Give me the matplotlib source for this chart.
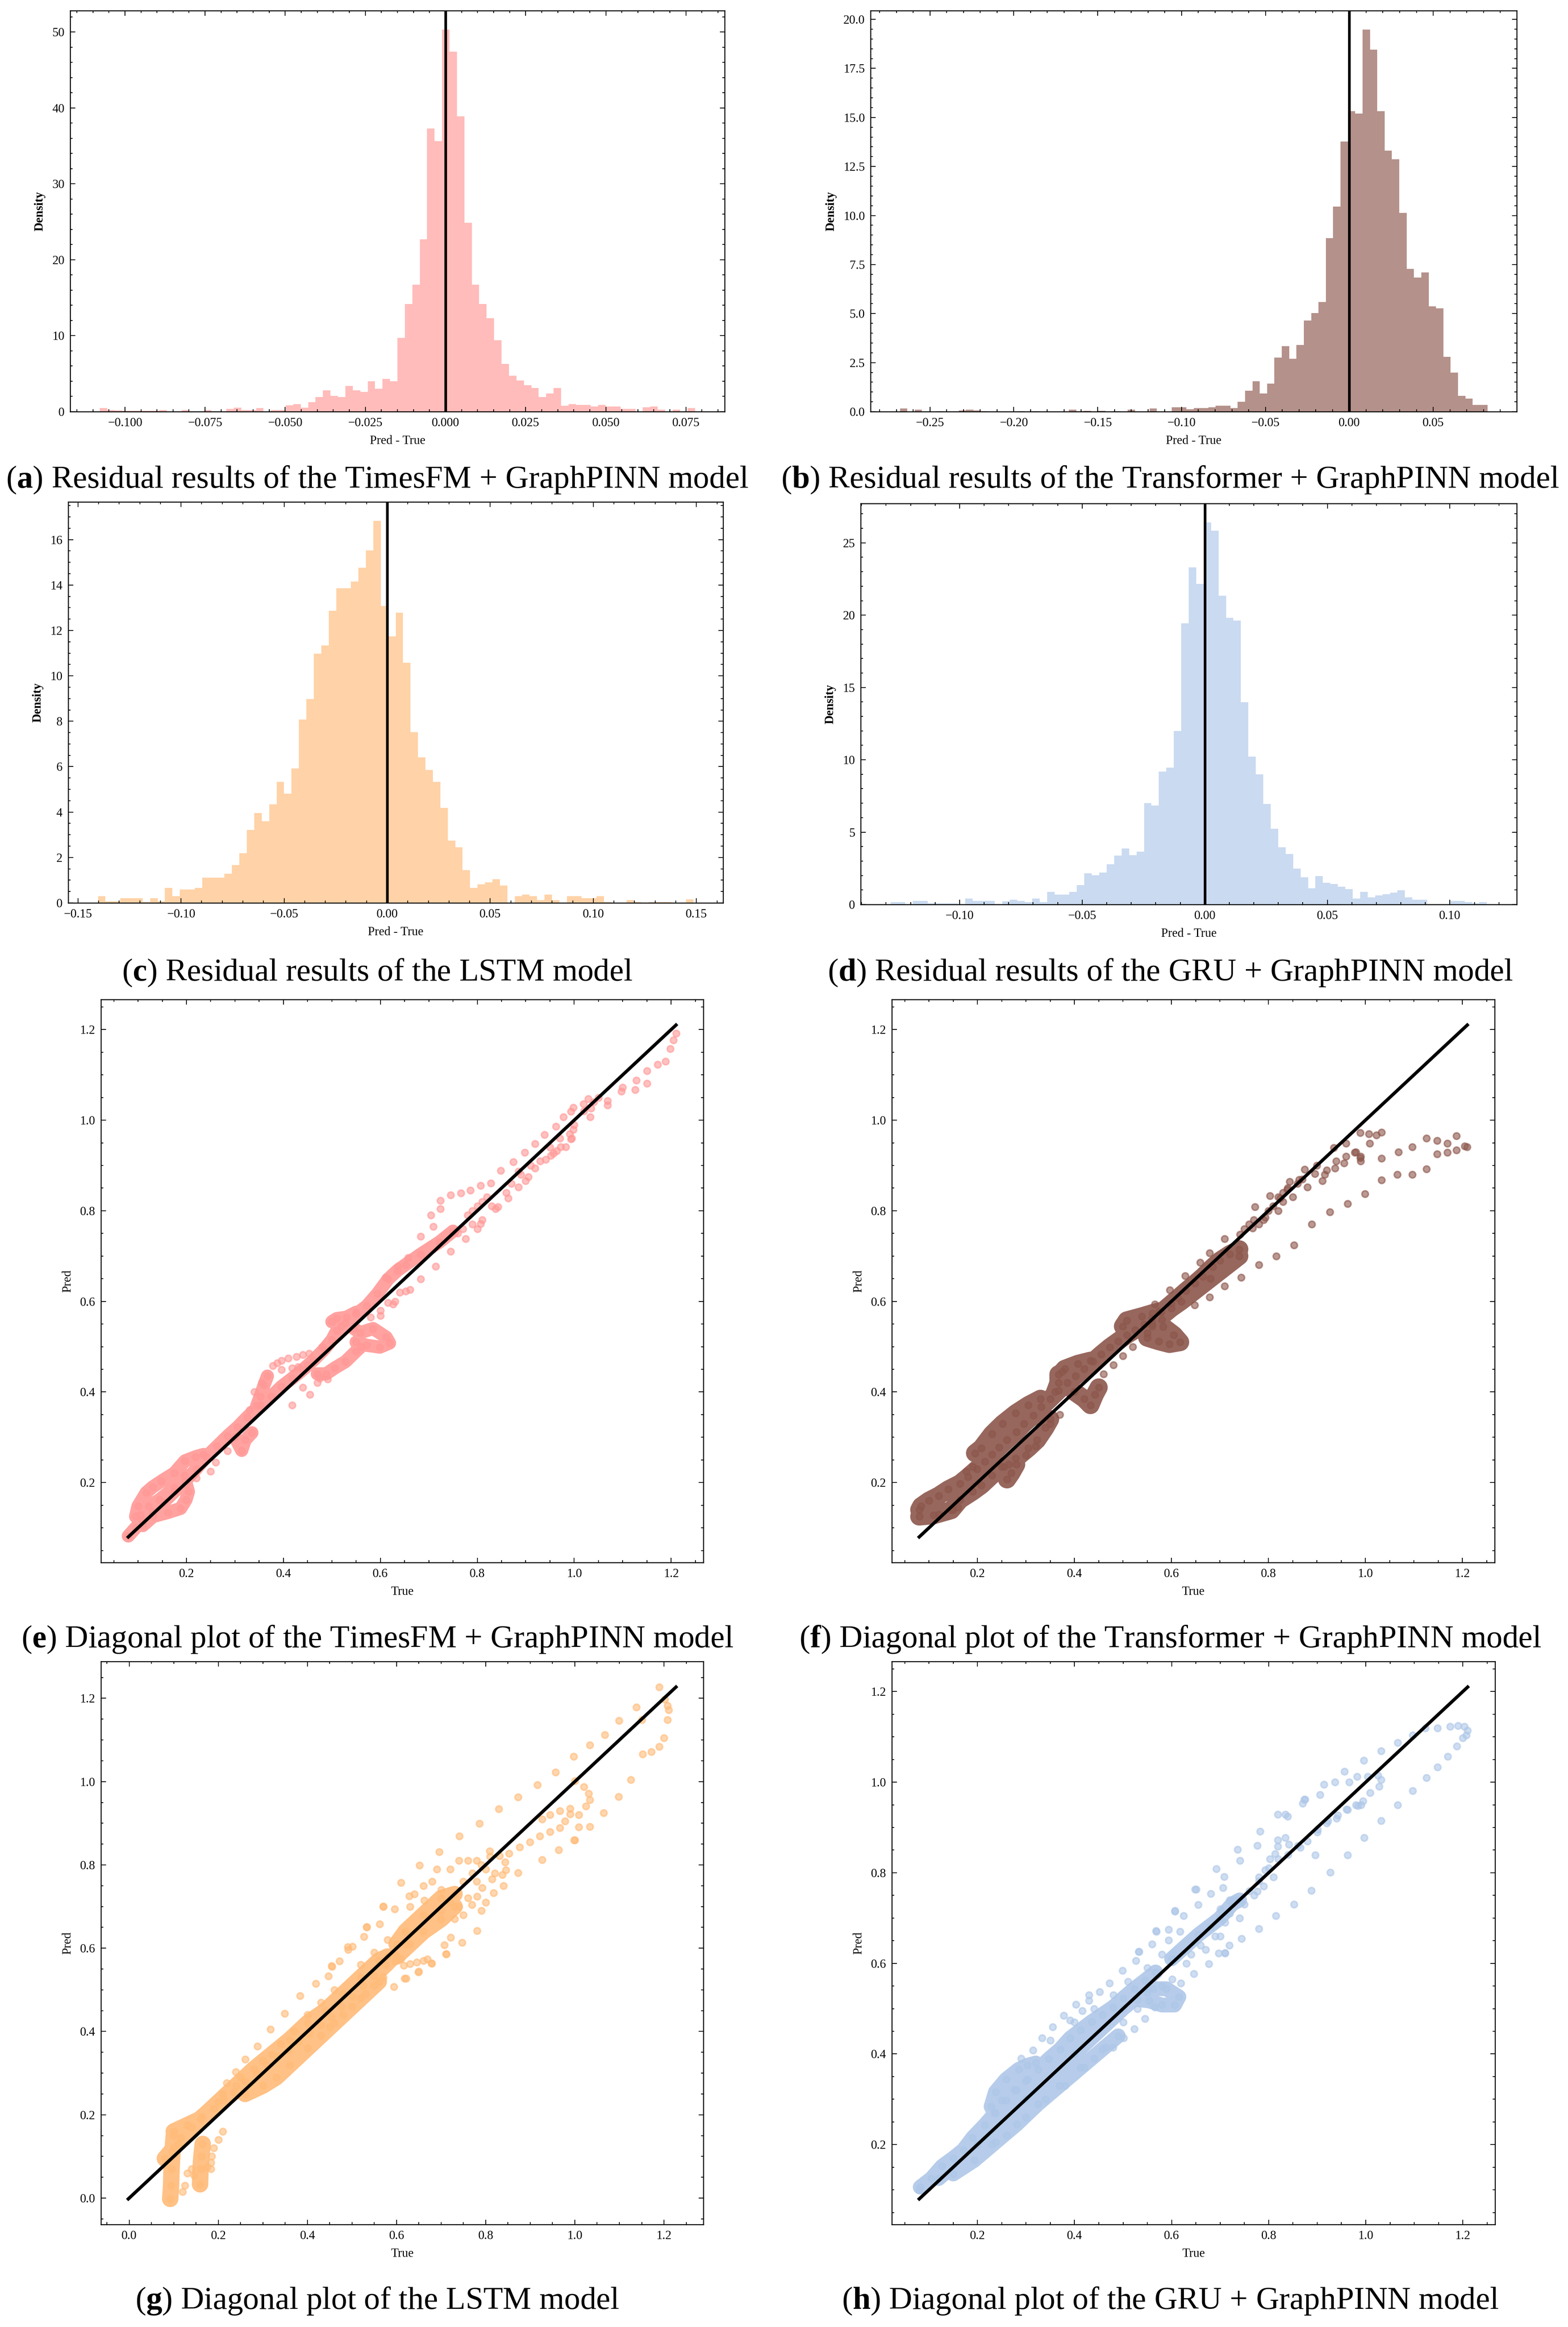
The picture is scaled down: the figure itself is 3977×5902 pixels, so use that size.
import numpy as np
import matplotlib
matplotlib.use("Agg")
import matplotlib.pyplot as plt
from matplotlib.ticker import AutoMinorLocator, MultipleLocator

# ---------------- histogram data (density per bin, equal-width bins) ----------------
a_range = (-0.1078, 0.0778)
a_dens = [0.45, 0.2, 0.15, 0.1, 0.1, 0.1, 0.1, 0.1, 0.2, 0, 0, 0.2, 0, 0, 0.2, 0, 0, 0.35, 0.5, 0.2,
          0.2, 0.45, 0, 0.2, 0.2, 0.85, 1.0, 0.5, 1.25, 1.9, 2.8, 2.1, 1.9, 3.4, 2.8, 2.6, 4.0, 3.0, 4.3, 4.0,
          9.7, 14.2, 16.7, 22.7, 37.3, 35.6, 50.3, 47.4, 38.9, 24.9, 16.7, 14.2, 12.3, 9.4, 6.3, 4.7, 4.1, 3.5,
          3.1, 1.9, 2.4, 3.1, 0.8, 1.0, 0.9, 0.9, 0.7, 0.9, 0.7, 0.65, 0.35, 0.35, 0, 0.55, 0.7, 0.25, 0, 0.25,
          0, 0.45]

b_range = (-0.2679, 0.0823)
b_dens = [0.17, 0, 0.1, 0, 0, 0.03, 0, 0, 0.07, 0.1,
          0.07, 0.03, 0, 0, 0, 0, 0.03, 0, 0.03, 0,
          0, 0, 0, 0.1, 0.03, 0.05, 0, 0.05, 0, 0.03,
          0, 0.1, 0, 0, 0.17, 0, 0, 0.23, 0.23, 0.12,
          0.18, 0.18, 0.22, 0.3, 0.3, 0.18, 0.5, 1.07, 1.55, 0.92,
          1.43, 2.75, 3.34, 2.69, 3.39, 4.64, 5.02, 5.59, 8.84, 10.46,
          13.76, 15.31, 15.2, 19.47, 18.45, 15.31, 13.3, 12.86, 10.14, 7.27,
          6.84, 7.09, 5.37, 5.27, 2.8, 2.0, 0.8, 0.67, 0.35, 0.35]

c_range = (-0.1403, 0.1485)
c_dens = [0.29, 0.07, 0.07, 0.2, 0.2, 0.2, 0.04, 0.2, 0.07, 0.66,
          0.29, 0.59, 0.59, 0.66, 1.12, 1.12, 1.12, 1.28, 1.66, 2.19,
          3.21, 3.96, 3.59, 4.34, 5.33, 4.81, 5.92, 8.08, 8.98, 10.97,
          11.34, 12.87, 13.85, 13.85, 14.16, 14.76, 15.53, 16.82, 13.08, 11.74,
          12.78, 10.58, 7.52, 6.41, 5.85, 5.33, 4.18, 2.74, 2.44, 1.44,
          0.66, 0.82, 0.91, 1.05, 0.76, 0, 0.29, 0.36, 0.29, 0.13,
          0.36, 0.13, 0, 0.29, 0.29, 0.2, 0.2, 0.29, 0.04, 0,
          0, 0.13, 0.04, 0, 0.04, 0.04, 0.04, 0, 0, 0.16]

d_range = (-0.1282, 0.1151)
d_dens = [0.16, 0.16, 0, 0.25, 0.25, 0.07, 0.07, 0.07, 0.07, 0,
          0.41, 0.25, 0.25, 0.25, 0, 0.23, 0.32, 0.25, 0.16, 0.41,
          0.16, 0.88, 0.68, 0.68, 0.88, 1.33, 2.15, 2.03, 2.22, 2.78,
          3.39, 3.87, 3.41, 3.66, 7.01, 6.85, 9.18, 9.45, 11.98, 19.44,
          23.3, 22.15, 26.4, 25.84, 21.34, 19.82, 19.62, 13.97, 10.22, 9.0,
          6.94, 5.24, 3.96, 3.48, 2.49, 1.88, 1.13, 1.97, 1.51, 1.42,
          1.22, 1.06, 0.41, 0.88, 0.5, 0.63, 0.7, 0.81, 0.97, 0.5,
          0.32, 0.32, 0, 0, 0, 0.25, 0.25, 0.16, 0.09, 0.16]

# ---------------- diagonal plot data: (true, pred) ----------------
# dense traces (drawn as thick translucent paths) and individual points

e_band = [
    [(0.080, 0.082), (0.095, 0.10), (0.109, 0.116), (0.13, 0.135), (0.153, 0.157), (0.175, 0.18),
     (0.197, 0.203), (0.22, 0.23), (0.241, 0.257), (0.263, 0.28), (0.285, 0.303), (0.305, 0.322),
     (0.325, 0.344), (0.352, 0.371), (0.375, 0.39), (0.396, 0.412), (0.418, 0.43), (0.44, 0.449),
     (0.462, 0.47), (0.484, 0.494), (0.50, 0.515), (0.51, 0.535), (0.528, 0.553), (0.55, 0.572),
     (0.572, 0.59), (0.594, 0.617), (0.616, 0.649), (0.635, 0.668), (0.652, 0.681), (0.683, 0.704),
     (0.722, 0.731), (0.75, 0.755)],
    [(0.095, 0.125), (0.10, 0.148), (0.117, 0.178), (0.13, 0.19), (0.148, 0.203), (0.175, 0.221),
     (0.197, 0.248), (0.219, 0.257), (0.235, 0.262)],
    [(0.105, 0.128), (0.122, 0.148), (0.144, 0.162), (0.175, 0.189), (0.197, 0.216)],
    [(0.11, 0.105), (0.131, 0.125), (0.162, 0.134), (0.188, 0.143), (0.199, 0.162), (0.204, 0.18),
     (0.20, 0.195)],
    [(0.30, 0.30), (0.314, 0.271), (0.321, 0.294), (0.335, 0.31)],
    [(0.345, 0.37), (0.352, 0.39), (0.36, 0.415), (0.367, 0.435)],
    [(0.50, 0.555), (0.51, 0.562), (0.53, 0.565), (0.55, 0.576)],
    [(0.545, 0.54), (0.559, 0.531), (0.585, 0.54), (0.612, 0.521), (0.619, 0.508), (0.599, 0.499),
     (0.572, 0.503), (0.55, 0.51)],
    [(0.47, 0.44), (0.488, 0.44), (0.506, 0.453), (0.528, 0.467), (0.55, 0.49), (0.56, 0.50)],
]
e_points = [
    (0.378, 0.458), (0.387, 0.464), (0.396, 0.469), (0.41, 0.474), (0.427, 0.478), (0.44, 0.482),
    (0.453, 0.485), (0.396, 0.449), (0.418, 0.453), (0.43, 0.455), (0.491, 0.428), (0.455, 0.394),
    (0.418, 0.371), (0.44, 0.41), (0.475, 0.43), (0.47, 0.42), (0.25, 0.225), (0.22, 0.21),
    (0.285, 0.27), (0.26, 0.245), (0.33, 0.36), (0.34, 0.40), (0.355, 0.42), (0.45, 0.46),
    (0.52, 0.545), (0.48, 0.50), (0.58, 0.565), (0.616, 0.597), (0.64, 0.62), (0.661, 0.626),
    (0.60, 0.58), (0.63, 0.60),
    (1.210, 1.192), (1.205, 1.177), (1.198, 1.158), (1.188, 1.130), (1.172, 1.123), (1.150, 1.109),
    (1.128, 1.088), (1.100, 1.072), (1.150, 1.081), (1.126, 1.067), (1.097, 1.064), (1.069, 1.043),
    (1.069, 1.033), (1.035, 1.026), (1.033, 1.007), (1.029, 1.047), (1.019, 1.036), (0.998, 1.028),
    (0.993, 1.019), (0.978, 1.007), (0.998, 0.979), (0.993, 0.958), (0.972, 0.941), (0.957, 0.927),
    (0.939, 0.968), (0.962, 0.986), (0.919, 0.948), (0.898, 0.929), (0.874, 0.908), (0.848, 0.889),
    (0.828, 0.861), (0.941, 0.913), (0.919, 0.894), (0.905, 0.875), (0.885, 0.852), (0.864, 0.828),
    (0.843, 0.809), (0.885, 0.887), (0.900, 0.866), (0.991, 0.970), (0.995, 0.960), (0.983, 0.941),
    (0.964, 0.932), (0.952, 0.922), (0.807, 0.856), (0.786, 0.845), (0.766, 0.839), (0.745, 0.835),
    (0.724, 0.823), (0.704, 0.790), (0.724, 0.804), (0.838, 0.804), (0.807, 0.771), (0.776, 0.738),
    (0.745, 0.710), (0.714, 0.677), (0.683, 0.649), (0.652, 0.622), (0.626, 0.594), (0.600, 0.568),
    (0.709, 0.765), (0.683, 0.743), (0.657, 0.696), (0.636, 0.677), (0.611, 0.653),
    (0.78, 0.79), (0.79, 0.80), (0.80, 0.81), (0.81, 0.82), (0.82, 0.83), (0.79, 0.77), (0.80, 0.76),
    (0.81, 0.78), (0.83, 0.81), (0.77, 0.76), (0.76, 0.75), (0.86, 0.84), (0.87, 0.86), (0.89, 0.88),
    (0.91, 0.90), (0.93, 0.91), (0.95, 0.94), (0.97, 0.96), (1.00, 0.99), (1.02, 1.02), (1.04, 1.04),
    (1.05, 1.05),
]

f_band = [
    [(0.08, 0.14), (0.084, 0.148), (0.10, 0.16), (0.12, 0.171), (0.14, 0.185), (0.164, 0.198),
     (0.18, 0.212), (0.199, 0.23), (0.215, 0.246), (0.23, 0.262), (0.245, 0.278), (0.261, 0.294),
     (0.28, 0.312), (0.296, 0.33), (0.315, 0.348), (0.332, 0.367), (0.35, 0.385), (0.367, 0.403),
     (0.385, 0.42), (0.402, 0.435), (0.42, 0.451), (0.438, 0.467), (0.455, 0.483), (0.473, 0.499),
     (0.49, 0.512), (0.508, 0.526), (0.525, 0.537), (0.544, 0.549), (0.56, 0.562), (0.579, 0.576),
     (0.60, 0.595), (0.614, 0.608), (0.63, 0.623), (0.649, 0.64), (0.665, 0.655), (0.685, 0.676),
     (0.70, 0.69), (0.72, 0.704), (0.74, 0.715)],
    [(0.08, 0.125), (0.11, 0.128), (0.146, 0.139), (0.164, 0.162), (0.19, 0.18), (0.208, 0.194),
     (0.23, 0.216), (0.25, 0.235)],
    [(0.195, 0.265), (0.208, 0.276), (0.23, 0.307), (0.252, 0.33), (0.279, 0.353), (0.305, 0.371),
     (0.33, 0.385)],
    [(0.265, 0.24), (0.279, 0.253), (0.305, 0.276), (0.323, 0.294), (0.34, 0.321), (0.35, 0.34)],
    [(0.255, 0.235), (0.261, 0.207), (0.27, 0.221), (0.28, 0.24)],
    [(0.36, 0.40), (0.367, 0.42), (0.367, 0.439)],
    [(0.375, 0.445), (0.38, 0.451), (0.407, 0.462), (0.433, 0.469)],
    [(0.50, 0.545), (0.508, 0.558), (0.539, 0.567), (0.561, 0.574), (0.575, 0.578)],
    [(0.56, 0.545), (0.583, 0.544), (0.605, 0.526), (0.618, 0.51), (0.596, 0.506), (0.574, 0.512),
     (0.55, 0.52)],
    [(0.40, 0.40), (0.42, 0.385), (0.433, 0.371), (0.442, 0.394), (0.45, 0.41)],
    [(0.56, 0.55), (0.60, 0.585), (0.62, 0.60), (0.68, 0.65), (0.74, 0.70)],
]
f_points = [
    (0.177, 0.225), (0.19, 0.235), (0.35, 0.33), (0.37, 0.35), (0.55, 0.53), (0.58, 0.56),
    (0.52, 0.50), (0.48, 0.46), (0.46, 0.44), (0.50, 0.48), (0.30, 0.26), (0.32, 0.28),
    (0.12, 0.13), (0.15, 0.14), (0.16, 0.145),
    (0.989, 0.972), (1.007, 0.970), (1.023, 0.967), (1.033, 0.973), (1.009, 0.949), (0.978, 0.929),
    (0.989, 0.917), (0.960, 0.949), (0.935, 0.939), (0.956, 0.905), (0.937, 0.894), (0.911, 0.866),
    (0.916, 0.880), (0.896, 0.882), (0.875, 0.891), (0.863, 0.869), (0.880, 0.852), (0.844, 0.864),
    (0.839, 0.847), (0.824, 0.828), (0.803, 0.833), (0.772, 0.809), (0.793, 0.785), (0.767, 0.762),
    (0.741, 0.748), (0.710, 0.738), (0.679, 0.707), (0.659, 0.686), (0.628, 0.656), (0.597, 0.625),
    (0.566, 0.594), (1.068, 0.930), (1.097, 0.941), (1.126, 0.960), (1.148, 0.955), (1.169, 0.949),
    (1.148, 0.925), (1.169, 0.929), (1.188, 0.965), (1.188, 0.934), (1.205, 0.943), (1.210, 0.941),
    (1.033, 0.916), (1.033, 0.868), (1.066, 0.880), (1.097, 0.880), (1.126, 0.892), (0.999, 0.837),
    (0.963, 0.816), (0.927, 0.797), (0.889, 0.770), (0.853, 0.724), (0.816, 0.700), (0.780, 0.681),
    (0.744, 0.653), (0.710, 0.634), (0.679, 0.609), (0.648, 0.592),
    (0.80, 0.80), (0.81, 0.81), (0.82, 0.83), (0.83, 0.84), (0.84, 0.85), (0.82, 0.80), (0.83, 0.82),
    (0.79, 0.78), (0.78, 0.77), (0.77, 0.78), (0.76, 0.77), (0.75, 0.76), (0.86, 0.86), (0.85, 0.83),
    (0.87, 0.87), (0.90, 0.90), (0.92, 0.89), (0.94, 0.91), (0.96, 0.92), (0.98, 0.93), (0.99, 0.92),
    (0.99, 0.91),
]

g_band = [
    [(0.08, 0.095), (0.10, 0.12), (0.116, 0.145), (0.14, 0.17), (0.164, 0.195), (0.19, 0.215),
     (0.212, 0.236), (0.235, 0.255), (0.26, 0.28), (0.285, 0.30), (0.308, 0.321), (0.333, 0.34),
     (0.357, 0.355), (0.38, 0.375), (0.404, 0.395), (0.43, 0.415), (0.453, 0.435), (0.475, 0.46),
     (0.501, 0.484), (0.525, 0.51), (0.549, 0.534), (0.575, 0.56), (0.597, 0.584), (0.62, 0.61)],
    [(0.26, 0.25), (0.30, 0.27), (0.33, 0.29), (0.36, 0.32), (0.40, 0.36), (0.43, 0.39), (0.46, 0.42),
     (0.50, 0.46), (0.53, 0.49), (0.56, 0.52)],
    [(0.10, 0.16), (0.13, 0.175), (0.16, 0.19), (0.20, 0.23), (0.24, 0.27), (0.28, 0.31), (0.32, 0.345),
     (0.36, 0.38), (0.40, 0.42), (0.44, 0.45), (0.48, 0.49), (0.52, 0.53), (0.56, 0.57), (0.58, 0.58)],
    [(0.092, -0.002), (0.094, 0.03), (0.095, 0.07), (0.097, 0.11), (0.10, 0.15)],
    [(0.159, 0.033), (0.16, 0.07), (0.162, 0.10), (0.165, 0.13)],
    [(0.60, 0.61), (0.62, 0.64), (0.66, 0.68), (0.70, 0.72), (0.73, 0.73)],
    [(0.60, 0.58), (0.63, 0.61), (0.66, 0.64), (0.70, 0.67), (0.73, 0.70)],
]
g_points = [
    (0.183, 0.07), (0.183, 0.085), (0.185, 0.10), (0.175, 0.075), (0.12, 0.015), (0.125, 0.03),
    (0.13, 0.06), (0.14, 0.07), (0.145, 0.055), (0.11, 0.13), (0.20, 0.14), (0.19, 0.12), (0.21, 0.16),
    (0.219, 0.276), (0.239, 0.303), (0.260, 0.333), (0.288, 0.364), (0.317, 0.405), (0.349, 0.443),
    (0.383, 0.486), (0.419, 0.515), (0.447, 0.533), (0.455, 0.556), (0.472, 0.569), (0.491, 0.596),
    (0.501, 0.604), (0.527, 0.628), (0.533, 0.651), (0.562, 0.658), (0.570, 0.700), (0.596, 0.694),
    (0.628, 0.725), (0.662, 0.715), (0.21, 0.25), (0.25, 0.29), (0.30, 0.33), (0.34, 0.37),
    (0.37, 0.40), (0.40, 0.44), (0.43, 0.47), (0.46, 0.50), (0.52, 0.56), (0.55, 0.59), (0.58, 0.62),
    (0.621, 0.527), (0.594, 0.507), (0.650, 0.544), (0.678, 0.564), (0.707, 0.608), (0.712, 0.586),
    (0.721, 0.626), (0.616, 0.559), (0.63, 0.562), (0.645, 0.566), (0.66, 0.57), (0.669, 0.574),
    (0.597, 0.569), (0.61, 0.575), (0.57, 0.53), (0.55, 0.51), (0.52, 0.48), (0.48, 0.44), (0.45, 0.41),
    (1.189, 1.227), (1.202, 1.198), (1.208, 1.182), (1.211, 1.172), (1.208, 1.148), (1.200, 1.105),
    (1.189, 1.084), (1.172, 1.072), (1.152, 1.066), (1.150, 1.148), (1.138, 1.179), (1.099, 1.146),
    (1.126, 1.004), (1.098, 0.964), (1.067, 1.112), (1.034, 1.088), (0.997, 1.060), (0.957, 1.022),
    (0.916, 0.992), (0.873, 0.963), (0.829, 0.934), (0.786, 0.899), (0.741, 0.869), (0.696, 0.831),
    (0.651, 0.799), (0.610, 0.757), (0.570, 0.701), (0.533, 0.650), (0.490, 0.603), (0.454, 0.558),
    (1.000, 1.002), (1.020, 0.987), (1.031, 0.971), (1.034, 0.956), (1.025, 0.941), (0.989, 0.935),
    (0.966, 0.930), (0.944, 0.920), (0.927, 0.910), (0.989, 0.922), (1.009, 0.920), (1.009, 0.891),
    (1.000, 0.860), (1.034, 0.892), (1.065, 0.925), (0.852, 0.827), (0.876, 0.843), (0.899, 0.855),
    (0.921, 0.869), (0.944, 0.879), (0.966, 0.889), (0.978, 0.905), (0.927, 0.812), (0.964, 0.836),
    (0.998, 0.860), (0.873, 0.781), (0.840, 0.750), (0.818, 0.733), (0.781, 0.642), (0.747, 0.613),
    (0.711, 0.586), (0.679, 0.563), (0.649, 0.542), (0.618, 0.527), (0.809, 0.833), (0.831, 0.822),
    (0.843, 0.807), (0.845, 0.788), (0.837, 0.776), (0.814, 0.766), (0.792, 0.745), (0.781, 0.724),
    (0.769, 0.704),
    (0.75, 0.76), (0.77, 0.78), (0.79, 0.80), (0.81, 0.82), (0.80, 0.79), (0.76, 0.72), (0.74, 0.70),
    (0.72, 0.71), (0.70, 0.69), (0.78, 0.76), (0.82, 0.78), (0.75, 0.68), (0.73, 0.67), (0.80, 0.71),
    (0.79, 0.69), (0.70, 0.74), (0.68, 0.76), (0.69, 0.79), (0.66, 0.75), (0.63, 0.70), (0.64, 0.73),
    (0.72, 0.79), (0.74, 0.81), (0.76, 0.81), (0.78, 0.81),
]

h_band = [
    [(0.082, 0.106), (0.105, 0.125), (0.127, 0.152), (0.15, 0.17), (0.171, 0.188), (0.19, 0.215),
     (0.215, 0.243), (0.237, 0.27), (0.259, 0.298), (0.28, 0.32), (0.303, 0.344), (0.325, 0.366),
     (0.347, 0.389), (0.37, 0.41), (0.391, 0.435), (0.413, 0.453), (0.435, 0.471), (0.457, 0.487),
     (0.479, 0.503), (0.50, 0.523), (0.523, 0.544), (0.545, 0.562), (0.567, 0.581)],
    [(0.15, 0.135), (0.193, 0.165), (0.237, 0.205), (0.281, 0.245), (0.325, 0.29), (0.369, 0.33),
     (0.413, 0.37), (0.457, 0.41), (0.49, 0.44)],
    [(0.12, 0.125), (0.20, 0.20), (0.30, 0.30), (0.40, 0.40), (0.50, 0.50), (0.55, 0.545)],
    [(0.235, 0.27), (0.228, 0.284), (0.237, 0.316), (0.259, 0.344), (0.285, 0.366), (0.303, 0.375),
     (0.32, 0.38)],
    [(0.25, 0.298), (0.276, 0.321), (0.30, 0.34)],
    [(0.55, 0.535), (0.562, 0.544), (0.589, 0.544), (0.615, 0.526), (0.606, 0.508), (0.58, 0.508),
     (0.554, 0.517), (0.53, 0.52)],
    [(0.60, 0.61), (0.655, 0.663), (0.699, 0.699), (0.725, 0.731), (0.74, 0.74)],
]
h_points = [
    (0.08, 0.10),
    (0.314, 0.408), (0.333, 0.435), (0.355, 0.460), (0.378, 0.485), (0.391, 0.474), (0.403, 0.509),
    (0.416, 0.495), (0.430, 0.530), (0.430, 0.518), (0.452, 0.537), (0.472, 0.556), (0.499, 0.584),
    (0.526, 0.606), (0.532, 0.626), (0.560, 0.642), (0.569, 0.670), (0.594, 0.675), (0.594, 0.651),
    (0.617, 0.670), (0.607, 0.715), (0.625, 0.705), (0.648, 0.763), (0.655, 0.729), (0.681, 0.754),
    (0.706, 0.767), (0.708, 0.791), (0.29, 0.39), (0.35, 0.43), (0.40, 0.47), (0.44, 0.50),
    (0.48, 0.53), (0.51, 0.56), (0.55, 0.59), (0.58, 0.62),
    (0.523, 0.455), (0.501, 0.435), (0.479, 0.414), (0.464, 0.414), (0.545, 0.478), (0.565, 0.503),
    (0.601, 0.565), (0.619, 0.556), (0.646, 0.577), (0.677, 0.599), (0.697, 0.622), (0.710, 0.622),
    (0.719, 0.640), (0.23, 0.20), (0.26, 0.22), (0.30, 0.26), (0.34, 0.30), (0.38, 0.33), (0.42, 0.37),
    (0.44, 0.39), (0.50, 0.47), (0.53, 0.50), (0.58, 0.55), (0.63, 0.60), (0.67, 0.63), (0.70, 0.66),
    (0.74, 0.70),
    (1.148, 1.119), (1.174, 1.123), (1.190, 1.125), (1.203, 1.123), (1.210, 1.114), (1.207, 1.104),
    (1.200, 1.098), (1.188, 1.079), (1.169, 1.057), (1.148, 1.033), (1.125, 1.010), (1.097, 0.981),
    (1.066, 0.950), (1.032, 0.915), (0.997, 0.877), (0.963, 0.839), (0.927, 0.801), (0.888, 0.761),
    (0.852, 0.730), (0.815, 0.705), (1.123, 1.119), (1.097, 1.104), (1.066, 1.087), (1.032, 1.069),
    (0.996, 1.048), (0.956, 1.024), (0.914, 0.995), (0.873, 0.962), (0.834, 0.929), (0.782, 0.891),
    (0.736, 0.851), (0.692, 0.809), (0.651, 0.763), (0.607, 0.716), (0.568, 0.672), (0.533, 0.626),
    (1.004, 1.012), (1.025, 1.015), (1.032, 1.005), (1.028, 0.991), (1.009, 0.977), (0.994, 0.958),
    (0.984, 0.948), (0.963, 0.939), (0.942, 0.927), (0.922, 0.915), (0.901, 0.896), (0.937, 1.000),
    (0.966, 1.000), (0.982, 1.012), (0.906, 0.972), (0.875, 0.962), (0.870, 0.953), (0.834, 0.877),
    (0.865, 0.856), (0.896, 0.839), (0.819, 0.929), (0.839, 0.924), (0.842, 0.863), (0.819, 0.872),
    (0.819, 0.858), (0.813, 0.842), (0.803, 0.830), (0.793, 0.806), (0.780, 0.782), (0.777, 0.759),
    (0.780, 0.676), (0.744, 0.655), (0.710, 0.623), (0.777, 0.860), (0.741, 0.827),
    (0.76, 0.76), (0.78, 0.79), (0.80, 0.81), (0.82, 0.83), (0.84, 0.84), (0.86, 0.86), (0.88, 0.87),
    (0.90, 0.89), (0.92, 0.91), (0.94, 0.92), (0.96, 0.94), (0.98, 0.95), (0.99, 0.95), (0.72, 0.71),
    (0.70, 0.70), (0.73, 0.74), (0.75, 0.73), (0.77, 0.75), (0.79, 0.77), (0.81, 0.79), (0.68, 0.68),
    (0.66, 0.64), (0.69, 0.66), (0.71, 0.69), (0.64, 0.62), (0.70, 0.72), (0.72, 0.74),
]

captions = [
    r"($\mathbf{a}$) Residual results of the TimesFM + GraphPINN model",
    r"($\mathbf{b}$) Residual results of the Transformer + GraphPINN model",
    r"($\mathbf{c}$) Residual results of the LSTM model",
    r"($\mathbf{d}$) Residual results of the GRU + GraphPINN model",
    r"($\mathbf{e}$) Diagonal plot of the TimesFM + GraphPINN model",
    r"($\mathbf{f}$) Diagonal plot of the Transformer + GraphPINN model",
    r"($\mathbf{g}$) Diagonal plot of the LSTM model",
    r"($\mathbf{h}$) Diagonal plot of the GRU + GraphPINN model",
]

plt.rcParams.update({
    "font.family": ["Liberation Serif", "DejaVu Serif"],
    "mathtext.fontset": "custom",
    "mathtext.rm": "Liberation Serif",
    "mathtext.bf": "Liberation Serif:bold",
    "font.size": 7.5,
    "axes.linewidth": 0.6,
    "xtick.direction": "in",
    "ytick.direction": "in",
    "xtick.top": True,
    "ytick.right": True,
    "xtick.major.size": 3,
    "ytick.major.size": 3,
    "xtick.minor.size": 1.5,
    "ytick.minor.size": 1.5,
    "xtick.major.width": 0.5,
    "ytick.major.width": 0.5,
    "xtick.minor.width": 0.5,
    "ytick.minor.width": 0.5,
})

W, H = 3977, 5902
fig = plt.figure(figsize=(W / 300, H / 300), dpi=300)


def px_axes(x0, x1, y0, y1):
    # axes box given in output pixels (top-left origin)
    return fig.add_axes([x0 / W, 1 - y1 / H, (x1 - x0) / W, (y1 - y0) / H])


def setup_ticks(ax, xstep, ystep):
    ax.xaxis.set_major_locator(MultipleLocator(xstep))
    ax.yaxis.set_major_locator(MultipleLocator(ystep))
    ax.xaxis.set_minor_locator(AutoMinorLocator())
    ax.yaxis.set_minor_locator(AutoMinorLocator())


def draw_hist(ax, dens, rng, color, xstep, ystep):
    edges = np.linspace(rng[0], rng[1], len(dens) + 1)
    ax.bar(edges[:-1], dens, width=np.diff(edges), align="edge", color=color,
           alpha=0.65, linewidth=0)
    ax.axvline(0, color="black", lw=1.6)
    ax.set_xlabel("Pred - True")
    ax.set_ylabel("Density", fontweight="bold")
    setup_ticks(ax, xstep, ystep)


def draw_diag(ax, points, bands, color, band_lw):
    pts = np.array(points)
    bx, by = [], []
    for seg in bands:
        s = np.array(seg)
        bx += list(s[:, 0]) + [np.nan]
        by += list(s[:, 1]) + [np.nan]
    bx, by = np.array(bx), np.array(by)
    ax.plot(bx, by, color=color, alpha=0.9, lw=band_lw, solid_capstyle="round",
            solid_joinstyle="round", zorder=1)
    # ring texture along the dense traces
    ax.scatter(bx, by, s=16, color=color, alpha=0.6, linewidths=0.9, zorder=1.5)
    ax.scatter(pts[:, 0], pts[:, 1], s=16, color=color, alpha=0.6, linewidths=0.9, zorder=2)
    vals = np.concatenate([pts.ravel(), bx[~np.isnan(bx)], by[~np.isnan(by)]])
    lo, hi = vals.min(), vals.max()
    ax.plot([lo, hi], [lo, hi], color="black", lw=2.0, zorder=3)
    ax.set_xlabel("True")
    ax.set_ylabel("Pred")
    setup_ticks(ax, 0.2, 0.2)


ax_a = px_axes(178, 1838, 27, 1044)
draw_hist(ax_a, a_dens, a_range, "#ff9896", 0.025, 10)
ax_b = px_axes(2208, 3847, 27, 1044)
draw_hist(ax_b, b_dens, b_range, "#8c564b", 0.05, 2.5)
ax_c = px_axes(173, 1834, 1273, 2290)
draw_hist(ax_c, c_dens, c_range, "#ffbb78", 0.05, 2)
ax_d = px_axes(2183, 3847, 1277, 2294)
draw_hist(ax_d, d_dens, d_range, "#aec7e8", 0.05, 5)

ax_e = px_axes(256, 1784, 2535, 3963)
draw_diag(ax_e, e_points, e_band, "#ff9896", 8)
ax_f = px_axes(2262, 3791, 2535, 3963)
draw_diag(ax_f, f_points, f_band, "#8c564b", 11)
ax_g = px_axes(256, 1784, 4214, 5642)
draw_diag(ax_g, g_points, g_band, "#ffbb78", 10)
ax_h = px_axes(2262, 3792, 4214, 5642)
draw_diag(ax_h, h_points, h_band, "#aec7e8", 9)

cap_x = [957, 2968] * 4
cap_y = [1237, 1237, 2487, 2487, 4178, 4178, 5856, 5856]
for text, cx, cy in zip(captions, cap_x, cap_y):
    fig.text(cx / W, 1 - cy / H, text, ha="center", va="baseline", fontsize=19.5)

fig.savefig("out.png", dpi=300)
